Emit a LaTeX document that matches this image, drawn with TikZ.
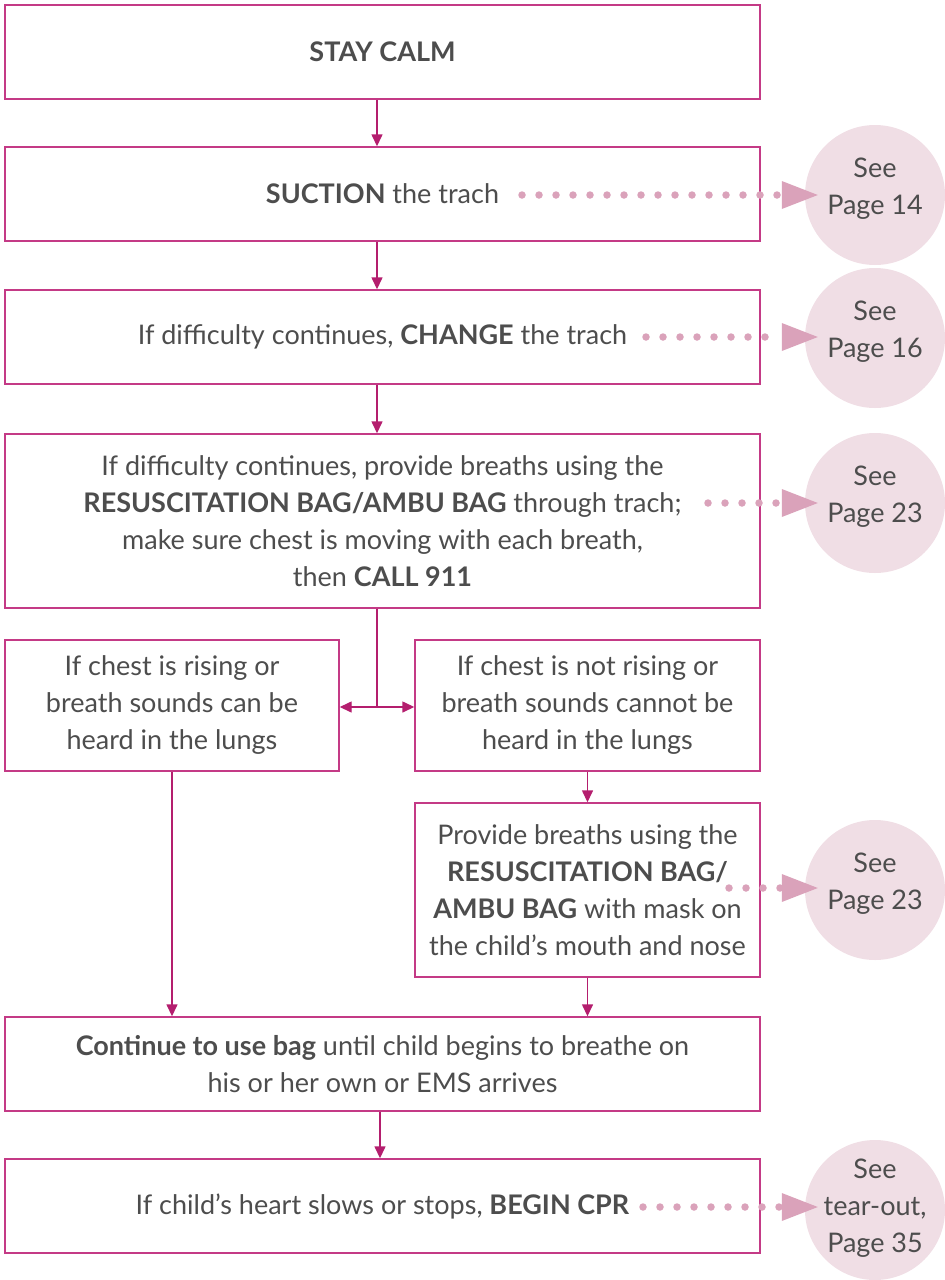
\documentclass[tikz,border=0pt]{standalone}
\usepackage{fontspec}
\setmainfont{Lato}
\usetikzlibrary{arrows.meta}
\definecolor{frame}{RGB}{196,58,134}
\definecolor{conn}{RGB}{180,30,110}
\definecolor{txt}{RGB}{77,77,77}
\definecolor{disc}{RGB}{240,222,229}
\definecolor{dotc}{RGB}{218,162,186}
\begin{document}
\begin{tikzpicture}[x=1pt,y=-1pt,
  box/.style={draw=frame,line width=1.4pt,inner sep=0pt,align=center,text=txt,font=\fontsize{27}{37}\selectfont},
  link/.style={draw=conn,line width=1.4pt,-{Triangle[length=12pt,width=11pt]}},
  plain/.style={draw=conn,line width=1.4pt},
  disc/.style={circle,fill=disc,minimum size=140pt,inner sep=0pt},
  disctxt/.style={align=center,text=txt,font=\fontsize{27}{37}\selectfont,inner sep=0pt,yshift=6pt},
  dotarrow/.style={draw=dotc,line width=7.5pt,line cap=round,dash pattern=on 0pt off 17pt,shorten >=-13pt,-{Triangle[length=36pt,width=28pt,fill=dotc,line width=0pt]}}
]
\useasboundingbox (0,0) rectangle (945,1280);
% boxes
\node[box,minimum width=755,minimum height=94] (b1) at (382.5,52) {\textbf{STAY CALM}};
\node[box,minimum width=755,minimum height=94] (b2) at (382.5,194) {\textbf{SUCTION} the trach};
\node[box,minimum width=755,minimum height=94] (b3) at (382.5,337) {If difficulty continues, \textbf{CHANGE} the trach};
\node[box,minimum width=755,minimum height=174] (b4) at (382.5,521) {If difficulty continues, provide breaths using the\\\textbf{RESUSCITATION BAG/AMBU BAG} through trach;\\make sure chest is moving with each breath,\\then \textbf{CALL 911}};
\node[box,minimum width=334,minimum height=131] (b5) at (172,705.5) {If chest is rising or\\breath sounds can be\\heard in the lungs};
\node[box,minimum width=345,minimum height=131] (b6) at (587.5,705.5) {If chest is not rising or\\breath sounds cannot be\\heard in the lungs};
\node[box,minimum width=345,minimum height=174] (b7) at (587.5,890) {Provide breaths using the\\\textbf{RESUSCITATION BAG/}\\\textbf{AMBU BAG} with mask on\\the child’s mouth and nose};
\node[box,minimum width=755,minimum height=94] (b8) at (382.5,1064) {\textbf{Continue to use bag} until child begins to breathe on\\his or her own or EMS arrives};
\node[box,minimum width=755,minimum height=94] (b9) at (382.5,1206) {If child’s heart slows or stops, \textbf{BEGIN CPR}};
% circles
\node[disc,label={[disctxt]center:{See\\Page 14}}] (c2) at (875,195) {};
\node[disc,label={[disctxt]center:{See\\Page 16}}] (c3) at (875,338) {};
\node[disc,label={[disctxt]center:{See\\Page 23}}] (c4) at (875,503) {};
\node[disc,label={[disctxt]center:{See\\Page 23}}] (c7) at (875,890) {};
\node[disc,label={[disctxt,yshift=-4pt]center:{See\\tear-out,\\Page 35}}] (c9) at (875,1210) {};
% connectors
\draw[link] (b1.south -| 377,0) -- (b2.north -| 377,0);
\draw[link] (b2.south -| 377,0) -- (b3.north -| 377,0);
\draw[link] (b3.south -| 377,0) -- (b4.north -| 377,0);
\coordinate (j) at (377,707);
\draw[plain] (b4.south -| j) -- (j);
\draw[link] (j) -- (b5.east |- j);
\draw[link] (j) -- (b6.west |- j);
\draw[link] (b5.south) -- (b8.north -| b5.south);
\draw[link] (b6.south) -- (b7.north);
\draw[link] (b7.south) -- (b8.north -| b7.south);
\draw[link] (b8.south -| 380,0) -- (b9.north -| 380,0);
% dotted pointers
\coordinate (s2) at (522,195);
\coordinate (s3) at (646,337);
\coordinate (s4) at (708,503);
\coordinate (s7) at (729,888);
\coordinate (s9) at (643,1207);
\draw[dotarrow] (s2) -- (s2 -| c2.west);
\draw[dotarrow] (s3) -- (s3 -| c3.west);
\draw[dotarrow] (s4) -- (s4 -| c4.west);
\draw[dotarrow] (s7) -- (s7 -| c7.west);
\draw[dotarrow] (s9) -- (s9 -| c9.west);
\end{tikzpicture}
\end{document}
